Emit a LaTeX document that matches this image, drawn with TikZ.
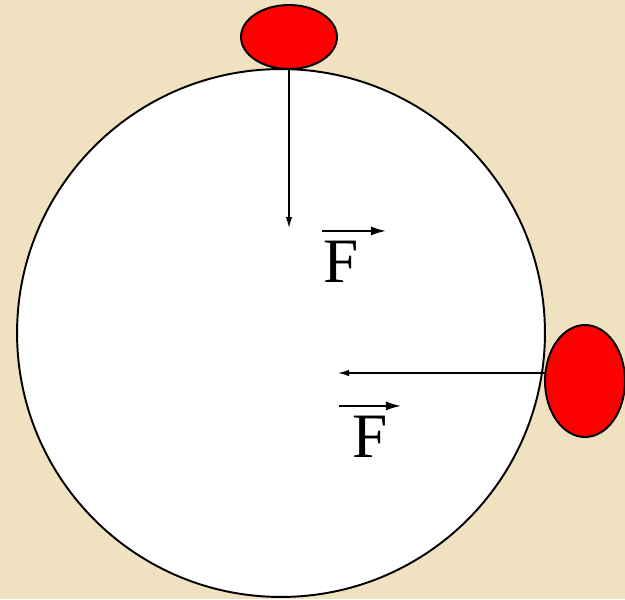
\documentclass[tikz,border=0pt]{standalone}
\usepackage{fontspec}
\setmainfont{Liberation Serif}
\usetikzlibrary{arrows.meta,shapes.geometric,calc}
\definecolor{cparch}{RGB}{240,226,192}
\definecolor{cball}{RGB}{255,0,0}

\begin{document}
\begin{tikzpicture}[
  x=0.02cm,y=-0.02cm,
  >={Latex[length=2.2mm,width=1.3mm]},
  wheel/.style={draw,circle,line width=1.1pt,fill=white,minimum size=10.56cm,inner sep=0pt},
  ball/.style={draw,ellipse,line width=1.1pt,fill=cball,inner sep=0pt},
  force/.style={->,line width=0.8pt},
  vecarrow/.style={-{Latex[length=3mm,width=1.8mm]},line width=0.9pt},
  flabel/.style={inner sep=0pt,font=\fontsize{36}{40}\selectfont}
]
  \fill[cparch] (0,0) rectangle (625,599);
  \useasboundingbox (0,0) rectangle (625,599);

  \node[wheel] (disc) at (281,333) {};
  \node[ball,minimum width=1.92cm,minimum height=1.28cm] (topball) at (289,37) {};
  \node[ball,minimum width=1.6cm,minimum height=2.24cm] (sideball) at (585,381) {};

  % forces towards the centre
  \coordinate (topend) at (289,228);
  \coordinate (sidestart) at (545,373);
  \coordinate (sideend) at (338,373);
  \draw[force] (topball.south) -- (topend);
  \draw[force] (sidestart) -- (sideend);

  % vector labels
  \node[flabel] (ftop) at (341,262) {F};
  \node[flabel] (fside) at (370,437) {F};
  \draw[vecarrow] ($(ftop.north west)+(-1,-10)$) -- ($(ftop.north east)+(27,-10)$);
  \draw[vecarrow] ($(fside.north west)+(-13,-10)$) -- ($(fside.north east)+(13,-10)$);
\end{tikzpicture}
\end{document}
